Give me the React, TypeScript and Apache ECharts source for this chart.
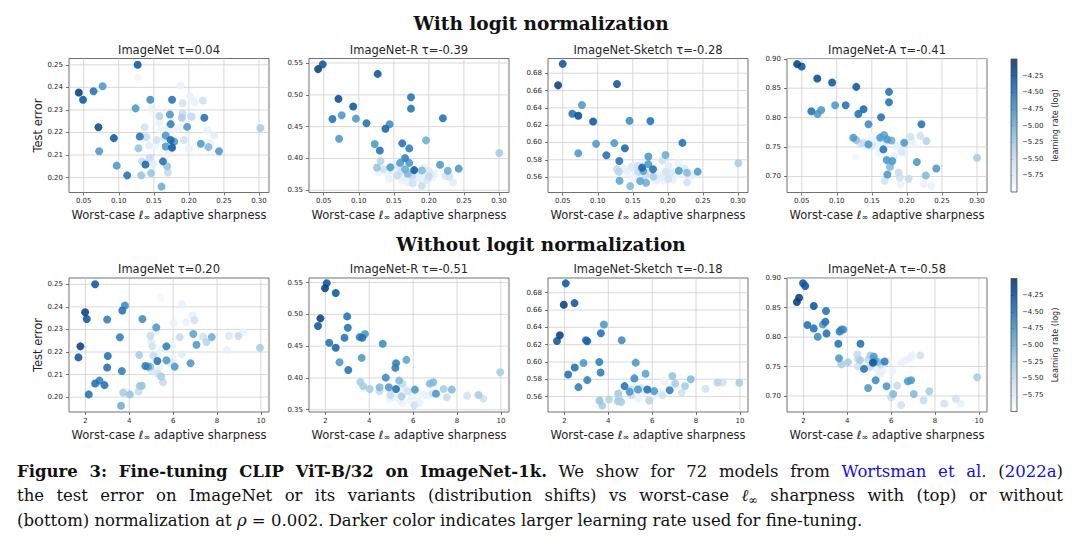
import React, { useEffect, useRef } from 'react';
import * as echarts from 'echarts';

// ---------- colour map (matplotlib "Blues") ----------
const BLUES = ['#f7fbff', '#deebf7', '#c6dbef', '#9ecae1', '#6baed6', '#4292c6', '#2171b5', '#08519c', '#08306b'];

// ---------- data: [sharpness, test error, log10 learning rate] ----------
const topImageNet = [
  [0.043,0.2377,-4.1],[0.049,0.2345,-4.3],[0.064,0.2383,-4.5],[0.077,0.2405,-4.8],[0.127,0.250,-4.3],
  [0.071,0.2223,-4.2],[0.072,0.2117,-4.8],[0.093,0.2175,-4.3],[0.097,0.2053,-4.8],[0.112,0.201,-4.5],
  [0.124,0.2307,-4.8],[0.130,0.2182,-4.5],[0.128,0.213,-5.2],[0.132,0.201,-5.2],[0.138,0.2058,-4.4],
  [0.145,0.2345,-4.7],[0.176,0.2345,-4.5],[0.163,0.2072,-4.5],[0.161,0.196,-5.0],[0.146,0.202,-5.2],
  [0.222,0.2265,-4.5],[0.243,0.2117,-4.8],[0.302,0.222,-5.3],[0.217,0.215,-4.8],[0.228,0.2135,-5.1],
  [0.1976,0.2225,-4.8],[0.19,0.2265,-5.3],[0.173,0.228,-4.8],[0.174,0.2237,-4.6],[0.158,0.2273,-5.4],
  [0.174,0.2167,-4.4],[0.179,0.216,-4.8],[0.176,0.2133,-4.3],[0.167,0.2138,-4.8],[0.167,0.2187,-4.8],
  [0.169,0.205,-5.2],[0.170,0.2023,-5.5],[0.137,0.2223,-5.6],[0.139,0.218,-5.5],[0.143,0.2143,-5.8],
  [0.144,0.2088,-5.5],[0.133,0.2072,-5.5],[0.149,0.206,-5.8],[0.154,0.2167,-5.6],[0.147,0.2305,-5.85],
  [0.188,0.2408,-5.85],[0.202,0.2361,-5.85],[0.191,0.233,-5.6],[0.208,0.2335,-5.85],[0.220,0.2342,-5.6],
  [0.191,0.2284,-5.5],[0.203,0.2271,-5.5],[0.205,0.227,-5.7],[0.226,0.221,-5.85],[0.236,0.2187,-5.8],
  [0.230,0.2153,-5.85],[0.200,0.2127,-5.85],[0.193,0.2167,-5.6],[0.188,0.2223,-5.85],[0.178,0.221,-5.85],
  [0.171,0.2108,-5.85],[0.158,0.2243,-5.85],[0.168,0.2215,-5.85],[0.127,0.2445,-5.95],[0.165,0.2175,-5.7],
  [0.160,0.221,-5.9],[0.152,0.214,-5.9]
];
const topImageNetR = [
  [0.042,0.5405,-4.1],[0.0486,0.548,-4.3],[0.127,0.533,-4.3],[0.071,0.4937,-4.2],[0.092,0.4816,-4.3],
  [0.1745,0.4963,-4.5],[0.1745,0.4784,-4.5],[0.220,0.4632,-4.5],[0.0624,0.462,-4.5],[0.0757,0.4679,-4.8],
  [0.096,0.4626,-4.8],[0.111,0.4553,-4.5],[0.138,0.4468,-4.4],[0.144,0.4537,-4.7],[0.0719,0.431,-4.8],
  [0.1227,0.4226,-4.8],[0.130,0.4126,-4.5],[0.162,0.4237,-4.5],[0.172,0.4158,-4.6],[0.196,0.4284,-5.0],
  [0.3005,0.4084,-5.3],[0.166,0.4005,-4.6],[0.159,0.393,-4.8],[0.172,0.393,-4.8],[0.179,0.3816,-4.3],
  [0.216,0.390,-4.8],[0.227,0.3805,-5.0],[0.2425,0.384,-4.8],[0.145,0.386,-4.8],[0.126,0.3858,-5.2],
  [0.131,0.3958,-5.4],[0.190,0.381,-5.1],[0.166,0.383,-5.0],[0.170,0.376,-5.1],[0.155,0.373,-5.5],
  [0.135,0.383,-5.6],[0.140,0.378,-5.85],[0.148,0.381,-5.8],[0.152,0.389,-5.7],[0.160,0.380,-5.6],
  [0.176,0.372,-5.5],[0.177,0.3605,-5.6],[0.185,0.368,-5.8],[0.190,0.357,-5.5],[0.192,0.371,-5.85],
  [0.198,0.366,-5.7],[0.203,0.375,-5.8],[0.2235,0.3726,-5.7],[0.2345,0.3616,-5.8],[0.229,0.3717,-5.6],
  [0.208,0.376,-5.85],[0.200,0.372,-5.5],[0.165,0.369,-5.85],[0.160,0.376,-5.85],[0.143,0.368,-5.85],
  [0.128,0.378,-5.9],[0.184,0.379,-5.8],[0.200,0.380,-5.7],[0.194,0.386,-5.85],[0.162,0.365,-5.9],
  [0.170,0.362,-5.85],[0.205,0.370,-5.9]
];
const topImageNetSketch = [
  [0.0434,0.666,-4.1],[0.05,0.6908,-4.3],[0.1274,0.6676,-4.3],[0.0637,0.6332,-4.5],[0.0774,0.6433,-4.8],
  [0.0722,0.6309,-4.2],[0.0722,0.5875,-4.8],[0.0934,0.6243,-4.3],[0.0976,0.5984,-4.8],[0.1123,0.5852,-4.5],
  [0.1236,0.5992,-4.8],[0.1307,0.5786,-4.5],[0.1387,0.5933,-4.4],[0.1453,0.6251,-4.7],[0.175,0.6247,-4.5],
  [0.2208,0.5995,-4.5],[0.1722,0.5837,-4.8],[0.1967,0.5856,-5.0],[0.3005,0.576,-5.3],[0.1632,0.5709,-4.4],
  [0.1788,0.569,-4.5],[0.2425,0.5663,-4.8],[0.2274,0.5651,-5.1],[0.2156,0.5674,-4.8],[0.1462,0.5496,-5.1],
  [0.1311,0.5558,-4.9],[0.1604,0.5554,-4.9],[0.1689,0.5535,-5.0],[0.1792,0.5605,-5.3],[0.2005,0.5578,-5.6],
  [0.2274,0.5539,-5.6],[0.1274,0.569,-5.5],[0.130,0.566,-5.4],[0.172,0.575,-4.8],[0.192,0.579,-5.6],
  [0.201,0.573,-5.8],[0.205,0.565,-5.7],[0.215,0.576,-5.85],[0.224,0.570,-5.7],[0.235,0.562,-5.8],
  [0.137,0.570,-5.8],[0.142,0.566,-5.85],[0.148,0.572,-5.7],[0.153,0.568,-5.85],[0.157,0.573,-5.6],
  [0.165,0.576,-5.85],[0.168,0.562,-5.5],[0.175,0.566,-5.7],[0.185,0.565,-5.85],[0.19,0.560,-5.8],
  [0.195,0.556,-5.85],[0.197,0.566,-5.6],[0.183,0.556,-5.8],[0.157,0.561,-5.85],[0.150,0.559,-5.9],
  [0.207,0.557,-5.85],[0.212,0.563,-5.9],[0.18,0.574,-5.9],[0.158,0.566,-5.5],[0.165,0.567,-4.9]
];
const topImageNetA = [
  [0.0434,0.8909,-4.1],[0.05,0.887,-4.3],[0.0722,0.8665,-4.2],[0.0934,0.8597,-4.3],[0.1278,0.8523,-4.3],
  [0.1745,0.8438,-4.5],[0.1745,0.8261,-4.5],[0.0637,0.8108,-4.5],[0.0726,0.8063,-4.8],[0.0778,0.813,-4.8],
  [0.0976,0.821,-4.8],[0.1127,0.821,-4.5],[0.1382,0.8142,-4.4],[0.1307,0.8063,-4.5],[0.1632,0.8006,-4.5],
  [0.1453,0.7886,-4.7],[0.2208,0.7886,-4.5],[0.1236,0.7659,-4.8],[0.1278,0.7619,-5.2],[0.1675,0.7705,-4.9],
  [0.162,0.766,-4.8],[0.172,0.763,-4.8],[0.178,0.761,-5.0],[0.1962,0.7574,-4.8],[0.2052,0.7676,-5.6],
  [0.219,0.769,-5.6],[0.2278,0.7602,-5.4],[0.1453,0.7545,-4.8],[0.138,0.757,-5.5],[0.1665,0.746,-4.5],
  [0.3,0.7318,-5.3],[0.2142,0.7244,-4.8],[0.1712,0.7278,-4.8],[0.1792,0.7261,-4.8],[0.242,0.7136,-4.8],
  [0.1759,0.7165,-5.1],[0.1722,0.7034,-4.8],[0.2269,0.7017,-5.1],[0.1882,0.7068,-5.5],[0.190,0.698,-5.6],
  [0.2024,0.696,-5.5],[0.1684,0.6926,-5.6],[0.191,0.6864,-5.85],[0.224,0.687,-5.85],[0.2349,0.684,-5.85],
  [0.1925,0.742,-5.7],[0.198,0.740,-5.85],[0.133,0.756,-5.6],[0.142,0.751,-5.85],[0.150,0.752,-5.7],
  [0.156,0.760,-5.85],[0.158,0.750,-5.9],[0.163,0.755,-5.85],[0.185,0.752,-5.8],[0.207,0.760,-5.85],
  [0.210,0.755,-5.9],[0.150,0.768,-5.9],[0.127,0.733,-5.95],[0.160,0.740,-5.9],[0.182,0.735,-5.85],
  [0.170,0.758,-5.7]
];
const bottomImageNet = [
  [2.44,0.250,-4.3],[1.985,0.2376,-4.1],[2.06,0.2346,-4.3],[1.77,0.2225,-4.1],[1.68,0.2176,-4.3],
  [2.15,0.2012,-4.5],[2.44,0.206,-4.5],[2.87,0.2053,-4.5],[2.64,0.2073,-4.6],[2.99,0.2344,-4.6],
  [3.68,0.2384,-4.5],[3.8,0.2406,-4.7],[3.02,0.2182,-4.5],[2.99,0.2131,-4.5],[3.57,0.2265,-4.6],
  [3.66,0.2116,-4.6],[4.6,0.2346,-4.7],[5.23,0.2309,-4.8],[4.73,0.2138,-4.6],[4.85,0.2135,-4.8],
  [5.28,0.216,-4.5],[5.69,0.2163,-4.8],[6.07,0.2135,-4.8],[5.69,0.2225,-4.6],[6.79,0.215,-4.8],
  [6.92,0.228,-4.9],[7.06,0.2232,-4.8],[7.76,0.2266,-5.0],[7.37,0.2268,-5.6],[7.52,0.2244,-5.4],
  [8.54,0.2271,-5.7],[8.97,0.2271,-5.5],[9.2,0.2288,-5.85],[8.45,0.2209,-5.85],[9.96,0.2219,-5.3],
  [3.62,0.1962,-5.0],[3.72,0.202,-5.3],[4.03,0.2012,-5.2],[4.42,0.2025,-5.5],[4.47,0.2049,-5.3],
  [4.57,0.205,-5.2],[4.45,0.2187,-5.3],[4.96,0.2271,-5.5],[5.0,0.2245,-5.8],[5.05,0.2225,-5.6],
  [5.1,0.2183,-5.5],[5.2,0.229,-5.85],[5.45,0.2091,-5.3],[5.54,0.2066,-5.5],[5.3,0.2105,-5.6],
  [5.41,0.2441,-5.95],[6.02,0.2329,-5.85],[6.4,0.2412,-5.85],[6.59,0.2332,-5.85],[6.88,0.2362,-5.85],
  [6.97,0.2341,-5.6],[6.39,0.219,-5.8],[5.95,0.2225,-5.85],[6.3,0.2266,-5.5],[4.96,0.2135,-5.2],
  [5.35,0.2195,-5.85],[5.5,0.221,-5.9],[5.85,0.2155,-5.7],[5.95,0.217,-5.85],[5.35,0.213,-5.85],
  [5.0,0.212,-5.7]
];
const bottomImageNetR = [
  [2.06,0.549,-4.3],[1.98,0.541,-4.1],[2.47,0.5337,-4.3],[1.77,0.4937,-4.1],[1.66,0.4816,-4.3],
  [2.99,0.4968,-4.5],[3.02,0.4789,-4.5],[2.87,0.4632,-4.5],[3.56,0.4642,-4.6],[3.68,0.4632,-4.5],
  [3.8,0.469,-4.8],[2.17,0.4553,-4.5],[2.47,0.4474,-4.4],[4.61,0.4537,-4.7],[3.65,0.4316,-4.8],
  [2.64,0.4247,-4.8],[3.04,0.4126,-4.5],[5.22,0.4232,-4.6],[5.19,0.4158,-4.6],[5.69,0.4284,-4.9],
  [4.75,0.4005,-4.7],[3.59,0.3937,-5.3],[3.72,0.3868,-5.3],[4.02,0.3826,-5.3],[4.47,0.3853,-5.1],
  [4.47,0.379,-5.5],[4.89,0.3853,-4.8],[4.96,0.3732,-5.5],[5.22,0.3826,-4.5],[5.36,0.3958,-5.1],
  [5.51,0.391,-5.5],[5.74,0.379,-5.6],[6.08,0.3816,-4.8],[5.47,0.371,-5.3],[5.4,0.365,-5.85],
  [5.95,0.372,-5.85],[6.05,0.357,-5.6],[6.27,0.3605,-5.85],[6.5,0.373,-5.85],[6.7,0.372,-5.9],
  [6.9,0.3753,-5.6],[6.76,0.391,-5.1],[6.92,0.3932,-5.1],[7.04,0.3753,-4.8],[7.39,0.3826,-5.3],
  [7.53,0.3695,-5.5],[7.76,0.3816,-5.1],[8.46,0.3721,-5.6],[8.98,0.3732,-5.3],[9.2,0.3674,-5.6],
  [9.97,0.4089,-5.3],[5.51,0.3605,-5.9],[6.3,0.375,-5.9],[5.1,0.37,-5.85],[5.6,0.384,-5.8],
  [5.3,0.378,-5.9],[6.2,0.368,-5.9],[5.85,0.365,-5.9],[4.9,0.366,-5.9],[7.1,0.374,-5.85],
  [5.0,0.381,-5.8]
];
const bottomImageNetSketch = [
  [2.06,0.6908,-4.3],[1.97,0.6661,-4.1],[2.46,0.668,-4.3],[1.66,0.6243,-4.3],[1.79,0.6309,-4.1],
  [2.98,0.6251,-4.5],[3.04,0.6239,-4.4],[3.8,0.6433,-4.8],[3.66,0.6332,-4.5],[4.61,0.6251,-4.7],
  [2.87,0.5988,-4.8],[3.59,0.5999,-4.6],[5.25,0.5992,-4.8],[2.47,0.5937,-4.5],[2.17,0.5856,-4.5],
  [3.65,0.5879,-4.6],[5.7,0.5864,-4.9],[2.64,0.5709,-4.6],[3.04,0.579,-4.6],[5.19,0.581,-4.7],
  [4.74,0.5721,-4.5],[4.97,0.5655,-4.8],[5.35,0.5682,-4.8],[5.78,0.5682,-4.5],[6.09,0.5663,-4.8],
  [6.8,0.5674,-4.6],[6.92,0.5837,-5.2],[7.05,0.5752,-5.3],[7.5,0.5721,-5.3],[7.76,0.58,-5.1],
  [8.43,0.569,-5.6],[8.98,0.5763,-5.4],[9.21,0.5763,-5.6],[9.97,0.576,-5.3],[3.6,0.5554,-5.2],
  [3.72,0.5496,-5.3],[4.03,0.5566,-5.4],[4.45,0.5636,-5.3],[4.47,0.5593,-5.5],[4.44,0.5547,-5.3],
  [4.59,0.5539,-5.3],[5.02,0.5678,-5.5],[5.05,0.5616,-5.5],[5.14,0.5714,-5.85],[5.37,0.5578,-5.85],
  [5.48,0.5698,-5.6],[5.86,0.5554,-5.4],[6.04,0.5605,-5.85],[6.39,0.5643,-5.85],[6.47,0.5616,-5.6],
  [6.54,0.578,-5.85],[6.7,0.572,-5.9],[7.1,0.572,-5.9],[7.35,0.5643,-5.6],[5.5,0.564,-5.9],
  [5.65,0.566,-5.85],[5.9,0.567,-5.9],[6.25,0.565,-5.85],[5.2,0.583,-5.95],[6.0,0.57,-5.9]
];
const bottomImageNetA = [
  [1.98,0.8915,-4.3],[2.08,0.887,-4.3],[1.8,0.867,-4.1],[1.7,0.8597,-4.1],[2.47,0.8528,-4.3],
  [3.03,0.8443,-4.5],[3.0,0.8261,-4.5],[2.89,0.8216,-4.8],[2.18,0.8205,-4.5],[2.47,0.8148,-4.5],
  [2.65,0.8006,-4.7],[3.05,0.8063,-4.5],[3.65,0.8097,-4.6],[3.74,0.813,-4.7],[3.82,0.813,-4.8],
  [3.59,0.7886,-4.5],[4.6,0.7886,-4.5],[3.62,0.7642,-4.8],[3.73,0.754,-5.3],[4.03,0.7574,-5.3],
  [4.45,0.7705,-5.5],[4.48,0.763,-5.5],[4.48,0.7506,-5.6],[4.58,0.7608,-5.3],[4.76,0.746,-4.5],
  [4.95,0.762,-5.5],[4.95,0.7136,-4.8],[5.21,0.7665,-4.8],[5.24,0.7597,-4.8],[5.17,0.7563,-4.3],
  [5.39,0.7579,-5.1],[5.52,0.7534,-5.5],[5.7,0.7585,-4.6],[5.85,0.7597,-5.85],[5.29,0.7267,-4.7],
  [5.79,0.7165,-4.8],[6.09,0.7034,-5.1],[6.0,0.6977,-5.5],[6.05,0.742,-5.85],[6.27,0.7176,-5.5],
  [6.45,0.6847,-5.6],[6.45,0.7562,-5.85],[6.65,0.7602,-5.85],[6.88,0.7648,-5.85],[6.95,0.7693,-5.85],
  [7.33,0.7688,-5.6],[6.76,0.725,-4.8],[6.91,0.7267,-4.8],[7.03,0.7034,-5.1],[7.48,0.6926,-5.5],
  [7.74,0.7079,-5.3],[8.42,0.6869,-5.6],[8.95,0.6955,-5.6],[9.18,0.6869,-5.85],[9.92,0.7318,-5.3],
  [5.02,0.7494,-5.5],[5.3,0.747,-5.85],[5.52,0.7375,-5.85],[5.6,0.745,-5.9],[5.06,0.7688,-5.3],
  [5.4,0.735,-5.9]
];

// ---------- ticks / ranges / labels ----------
const TOP_X_TICKS = [0.05, 0.10, 0.15, 0.20, 0.25, 0.30];
const BOTTOM_X_TICKS = [2, 4, 6, 8, 10];
const Y_TICKS_IN = [0.20, 0.21, 0.22, 0.23, 0.24, 0.25];
const Y_TICKS_R = [0.35, 0.40, 0.45, 0.50, 0.55];
const Y_TICKS_S = [0.56, 0.58, 0.60, 0.62, 0.64, 0.66, 0.68];
const Y_TICKS_A = [0.70, 0.75, 0.80, 0.85, 0.90];
const CB_TICKS = [-5.75, -5.5, -5.25, -5.0, -4.75, -4.5, -4.25];
const TOP_X_RANGE = [0.029, 0.3143];
const BOTTOM_X_RANGE = [1.25, 10.37];
const Y_RANGE_IN = [0.1934, 0.2528];
const Y_RANGE_R = [0.3464, 0.5572];
const Y_RANGE_S = [0.5422, 0.697];
const Y_RANGE_A = [0.6727, 0.9005];
const LR_RANGE = [-6, -4];

const TITLES_TOP = ['ImageNet τ=0.04', 'ImageNet-R τ=-0.39', 'ImageNet-Sketch τ=-0.28', 'ImageNet-A τ=-0.41'];
const TITLES_BOTTOM = ['ImageNet τ=0.20', 'ImageNet-R τ=-0.51', 'ImageNet-Sketch τ=-0.18', 'ImageNet-A τ=-0.58'];
const ROW_TITLES = ['With logit normalization', 'Without logit normalization'];
const CB_NAMES = ['learning rate (log)', 'Learning rate (log)'];
const X_NAME = 'Worst-case {l|ℓ}{s|∞} adaptive sharpness';
const Y_NAME = 'Test error';

type Piece = { t: string; b?: boolean; i?: boolean; c?: string; sub?: boolean };
const LINK = '#1010e8';
const CAPTION: Piece[][] = [
  [
    { t: 'Figure 3: Fine-tuning CLIP ViT-B/32 on ImageNet-1k.', b: true },
    { t: ' We show for 72 models from ' },
    { t: 'Wortsman et al.', c: LINK },
    { t: ' (' },
    { t: '2022a', c: LINK },
    { t: ')' },
  ],
  [
    { t: 'the test error on ImageNet or its variants (distribution shifts) vs worst-case ' },
    { t: 'ℓ', i: true },
    { t: '∞', sub: true },
    { t: ' sharpness with (top) or without' },
  ],
  [
    { t: '(bottom) normalization at ' },
    { t: 'ρ', i: true },
    { t: ' = 0.002. Darker color indicates larger learning rate used for fine-tuning.' },
  ],
];

// ---------- layout ----------
const COL_LEFT = [69, 309, 548, 787];
const PANEL_W = 200;
const ROW_TOP = [58.5, 278];
const PANEL_H = 134;
const CB_LEFT = 1011;
const CB_W = 6;
const TITLE_Y = [49.5, 268.5];
const ROW_TITLE_Y = [23, 244];
const CAP_LEFT = 17;
const CAP_RIGHT = 1063;
const CAP_Y = [471, 495.5, 520];
const CAP_SIZE = 16.5;

const SANS = 'DejaVu Sans';
const SERIF = 'DejaVu Serif';
const TXT = '#262626';
const GRID_COLOR = '#cfcfcf';
const FRAME = '#4d4d4d';

function captionElements(): any[] {
  const canvas = document.createElement('canvas');
  const ctx = canvas.getContext('2d') as CanvasRenderingContext2D;
  const sizeOf = (p: Piece) => (p.sub ? 11.5 : CAP_SIZE);
  const fontOf = (p: Piece) => `${p.i ? 'italic ' : ''}${p.b ? 'bold ' : ''}${sizeOf(p)}px "${SERIF}"`;
  const measure = (p: Piece) => { ctx.font = fontOf(p); return ctx.measureText(p.t).width; };
  const els: any[] = [];
  CAPTION.forEach((line, li) => {
    const words: Piece[][] = [];
    let cur: Piece[] = [];
    line.forEach((p) => {
      p.t.split(' ').forEach((part, k) => {
        if (k > 0) { if (cur.length) words.push(cur); cur = []; }
        if (part.length) cur.push({ ...p, t: part });
      });
    });
    if (cur.length) words.push(cur);
    const widths = words.map((w) => w.reduce((s, p) => s + measure(p), 0));
    const total = widths.reduce((a, b) => a + b, 0);
    const justify = li < CAPTION.length - 1;
    const gap = justify ? (CAP_RIGHT - CAP_LEFT - total) / (words.length - 1) : measure({ t: ' ' });
    let x = CAP_LEFT;
    words.forEach((w, wi) => {
      let px = x;
      w.forEach((p) => {
        els.push({
          type: 'text', x: px, y: CAP_Y[li] + (p.sub ? 4 : 0), silent: true,
          style: {
            text: p.t, fontFamily: SERIF, fontSize: sizeOf(p),
            fontWeight: p.b ? 'bold' : 'normal', fontStyle: p.i ? 'italic' : 'normal',
            fill: p.c || '#111111', align: 'left', verticalAlign: 'middle',
            textAlign: 'left', textVerticalAlign: 'middle',
          },
        });
        px += measure(p);
      });
      x += widths[wi] + gap;
    });
  });
  return els;
}

function buildOption() {
  const panels = [
    { data: topImageNet, xr: TOP_X_RANGE, xt: TOP_X_TICKS, yr: Y_RANGE_IN, yt: Y_TICKS_IN },
    { data: topImageNetR, xr: TOP_X_RANGE, xt: TOP_X_TICKS, yr: Y_RANGE_R, yt: Y_TICKS_R },
    { data: topImageNetSketch, xr: TOP_X_RANGE, xt: TOP_X_TICKS, yr: Y_RANGE_S, yt: Y_TICKS_S },
    { data: topImageNetA, xr: TOP_X_RANGE, xt: TOP_X_TICKS, yr: Y_RANGE_A, yt: Y_TICKS_A },
    { data: bottomImageNet, xr: BOTTOM_X_RANGE, xt: BOTTOM_X_TICKS, yr: Y_RANGE_IN, yt: Y_TICKS_IN },
    { data: bottomImageNetR, xr: BOTTOM_X_RANGE, xt: BOTTOM_X_TICKS, yr: Y_RANGE_R, yt: Y_TICKS_R },
    { data: bottomImageNetSketch, xr: BOTTOM_X_RANGE, xt: BOTTOM_X_TICKS, yr: Y_RANGE_S, yt: Y_TICKS_S },
    { data: bottomImageNetA, xr: BOTTOM_X_RANGE, xt: BOTTOM_X_TICKS, yr: Y_RANGE_A, yt: Y_TICKS_A },
  ];
  const grid: any[] = [];
  const xAxis: any[] = [];
  const yAxis: any[] = [];
  const series: any[] = [];
  const graphic: any[] = [];
  const labelStyle = { fontSize: 7, color: TXT, fontFamily: SANS };
  const tickStyle = { length: 3, lineStyle: { color: FRAME, width: 0.8 } };

  panels.forEach((p, i) => {
    const row = Math.floor(i / 4);
    const col = i % 4;
    grid.push({ left: COL_LEFT[col], top: ROW_TOP[row], width: PANEL_W, height: PANEL_H,
      show: true, borderColor: FRAME, borderWidth: 0.8, backgroundColor: 'transparent' });
    const isTop = row === 0;
    xAxis.push({
      type: 'value', gridIndex: i, min: p.xr[0], max: p.xr[1],
      axisLine: { show: false },
      axisTick: { show: true, customValues: p.xt, ...tickStyle },
      axisLabel: { ...labelStyle, margin: 5, customValues: p.xt,
        formatter: (v: number) => (isTop ? v.toFixed(2) : String(Math.round(v))) },
      splitLine: { show: false },
      name: X_NAME, nameLocation: 'middle', nameGap: 16,
      nameTextStyle: { fontSize: 11.5, color: TXT, fontFamily: SANS,
        rich: { l: { fontSize: 11.5, fontStyle: 'italic', color: TXT, fontFamily: SANS },
                s: { fontSize: 8, color: TXT, fontFamily: SANS, padding: [5, 0, 0, 0] } } },
    });
    yAxis.push({
      type: 'value', gridIndex: i, min: p.yr[0], max: p.yr[1],
      axisLine: { show: false },
      axisTick: { show: true, customValues: p.yt, ...tickStyle },
      axisLabel: { ...labelStyle, margin: 6, customValues: p.yt, formatter: (v: number) => v.toFixed(2) },
      splitLine: { show: false },
      name: col === 0 ? Y_NAME : '', nameLocation: 'middle', nameGap: 24,
      nameTextStyle: { fontSize: 11.5, color: TXT, fontFamily: SANS },
    });
    const xr = p.xr, yr = p.yr, xt = p.xt, yt = p.yt;
    series.push({
      type: 'custom', xAxisIndex: i, yAxisIndex: i, z: 1, silent: true,
      data: [[xr[0], yr[0]]],
      renderItem: (params: any, api: any) => {
        const cs = params.coordSys;
        const children: any[] = [];
        xt.forEach((v) => {
          const px = api.coord([v, yr[0]])[0];
          children.push({ type: 'line', shape: { x1: px, y1: cs.y, x2: px, y2: cs.y + cs.height },
            style: { stroke: GRID_COLOR, lineWidth: 0.8 } });
        });
        yt.forEach((v) => {
          const py = api.coord([xr[0], v])[1];
          children.push({ type: 'line', shape: { x1: cs.x, y1: py, x2: cs.x + cs.width, y2: py },
            style: { stroke: GRID_COLOR, lineWidth: 0.8 } });
        });
        return { type: 'group', children };
      },
    });
    const titles = isTop ? TITLES_TOP : TITLES_BOTTOM;
    graphic.push({ type: 'text', x: COL_LEFT[col] + PANEL_W / 2, y: TITLE_Y[row], silent: true,
      style: { text: titles[col], fontFamily: SANS, fontSize: 11.5, fill: TXT,
        align: 'center', verticalAlign: 'middle', textAlign: 'center', textVerticalAlign: 'middle' } });
  });

  const scatterStart = series.length;
  panels.forEach((p, i) => {
    const sorted = [...p.data].sort((a, b) => a[2] - b[2]);
    series.push({
      type: 'scatter', xAxisIndex: i, yAxisIndex: i, z: 3, data: sorted,
      symbol: 'circle', symbolSize: 8, itemStyle: { opacity: 0.88 },
    });
  });

  // colour bars
  [0, 1].forEach((row) => {
    const gi = 8 + row;
    grid.push({ left: CB_LEFT, top: ROW_TOP[row] + 0.5, width: CB_W, height: PANEL_H - 1, show: false });
    xAxis.push({ type: 'value', gridIndex: gi, min: 0, max: 1, show: false });
    yAxis.push({
      type: 'value', gridIndex: gi, position: 'right', min: LR_RANGE[0], max: LR_RANGE[1],
      axisLine: { show: false },
      axisTick: { show: true, customValues: CB_TICKS, ...tickStyle },
      axisLabel: { ...labelStyle, margin: 5, customValues: CB_TICKS,
        formatter: (v: number) => (v < 0 ? '\u2212' : '') + Math.abs(v).toFixed(2) },
      splitLine: { show: false },
      name: CB_NAMES[row], nameLocation: 'middle', nameRotate: 90, nameGap: 34,
      nameTextStyle: { fontSize: 8, color: TXT, fontFamily: SANS },
    });
    series.push({
      type: 'custom', xAxisIndex: gi, yAxisIndex: gi, silent: true, z: 2,
      data: [[0, LR_RANGE[0]]],
      renderItem: (params: any) => {
        const cs = params.coordSys;
        const stops = BLUES.map((c, k) => ({ offset: 1 - k / (BLUES.length - 1), color: c }))
          .sort((a, b) => a.offset - b.offset);
        return {
          type: 'group', children: [
            { type: 'rect', shape: { x: cs.x, y: cs.y, width: cs.width, height: cs.height },
              style: { fill: new echarts.graphic.LinearGradient(0, 0, 0, 1, stops), opacity: 0.88 } },
            { type: 'rect', shape: { x: cs.x, y: cs.y, width: cs.width, height: cs.height },
              style: { fill: 'none', stroke: FRAME, lineWidth: 0.8 } },
          ],
        };
      },
    });
  });

  ROW_TITLES.forEach((t, r) => {
    graphic.push({ type: 'text', x: 541, y: ROW_TITLE_Y[r], silent: true,
      style: { text: t, fontFamily: SERIF, fontSize: 18.5, fontWeight: 'bold', fill: '#111111',
        align: 'center', verticalAlign: 'middle', textAlign: 'center', textVerticalAlign: 'middle' } });
  });
  captionElements().forEach((e) => graphic.push(e));

  const scatterIdx = panels.map((_, i) => scatterStart + i);
  return {
    animation: false,
    backgroundColor: '#ffffff',
    textStyle: { fontFamily: SANS },
    grid, xAxis, yAxis, series, graphic,
    visualMap: [{ type: 'continuous', show: false, min: LR_RANGE[0], max: LR_RANGE[1], dimension: 2,
      seriesIndex: scatterIdx, inRange: { color: BLUES } }],
  };
}

export default function App() {
  const ref = useRef<HTMLDivElement>(null);
  useEffect(() => {
    if (!ref.current) return;
    const chart = echarts.init(ref.current, undefined, { renderer: 'svg' });
    chart.setOption(buildOption() as any);
    return () => chart.dispose();
  }, []);
  return <div ref={ref} style={{ position: 'absolute', left: 0, top: 0, width: 1080, height: 554, background: '#fff' }} />;
}
